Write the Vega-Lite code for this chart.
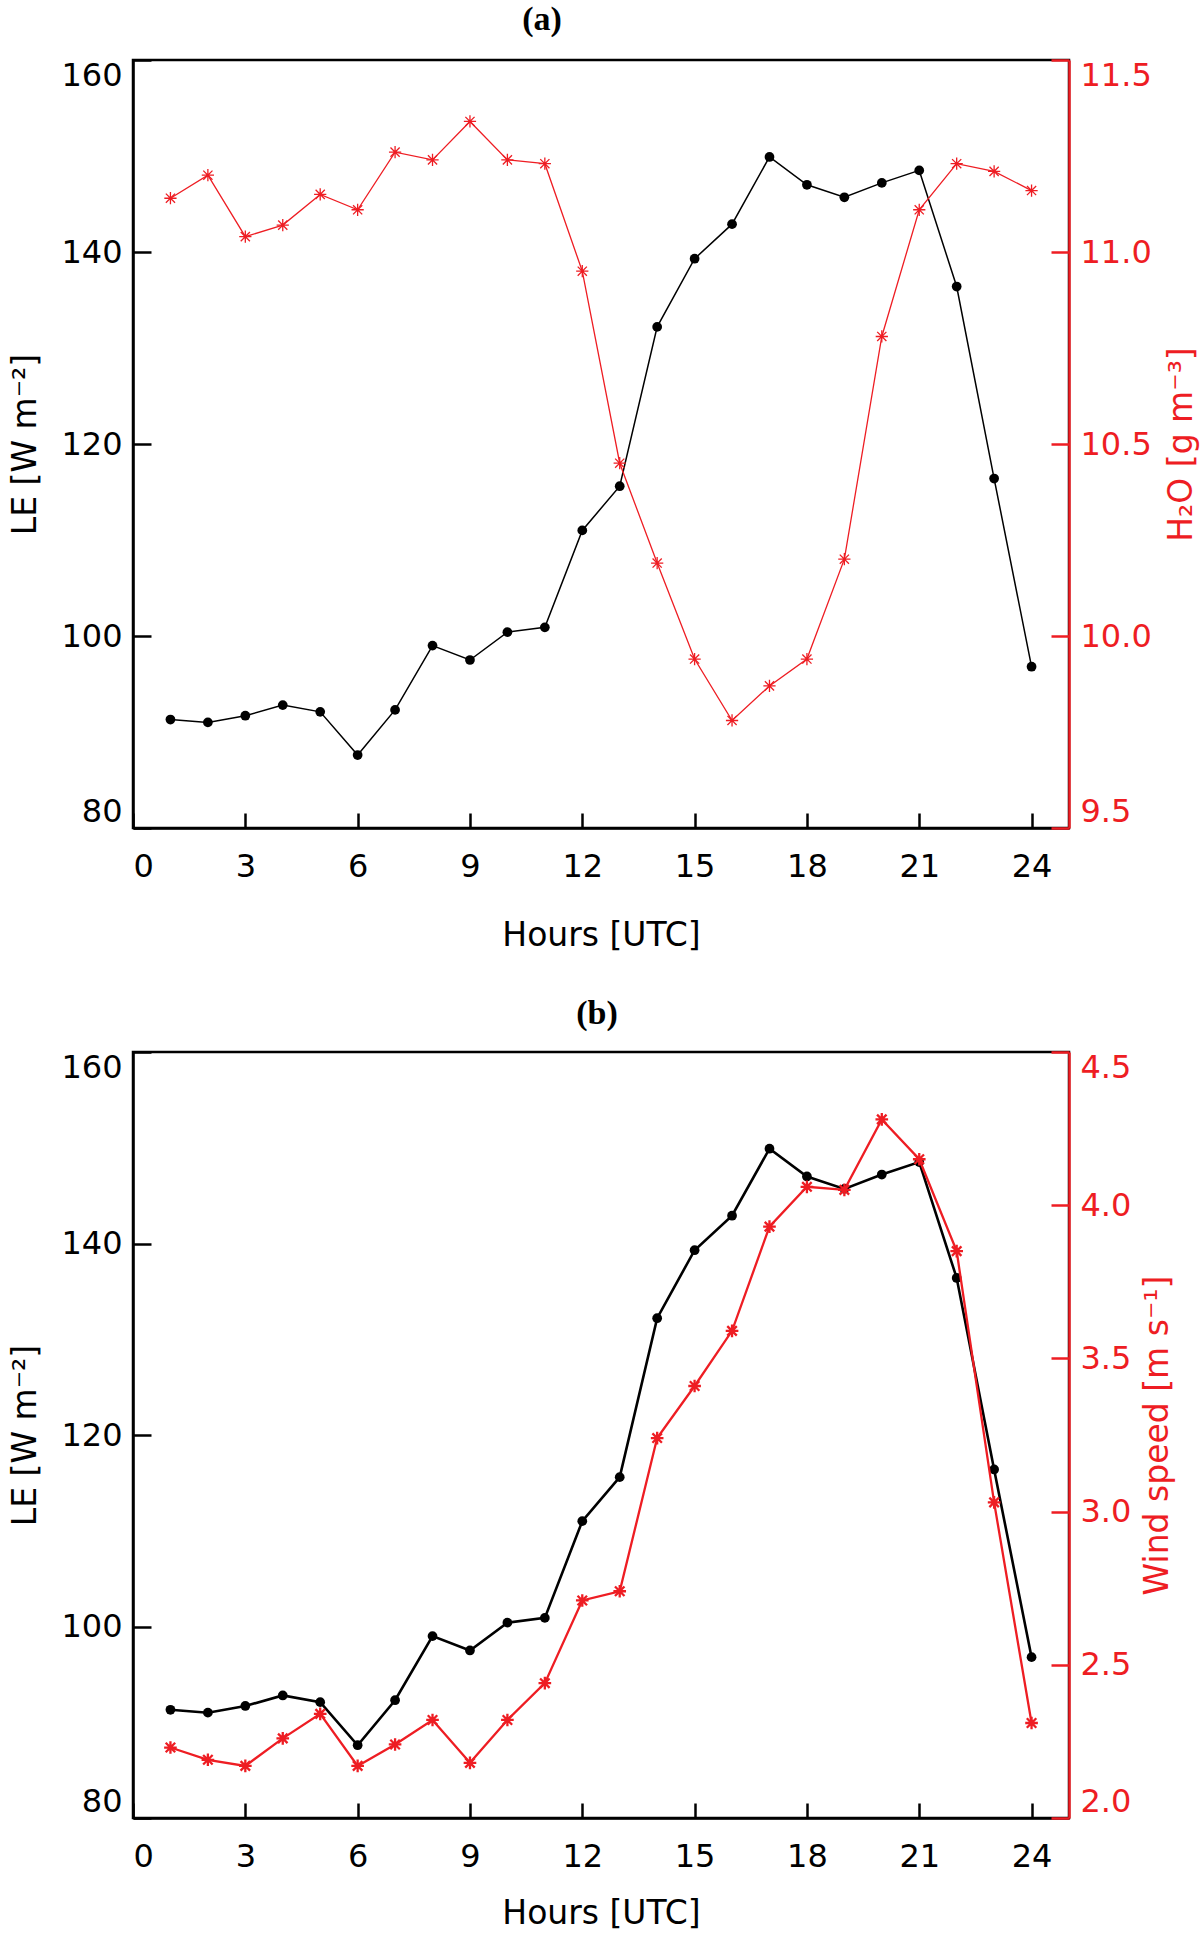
{
  "$schema": "https://vega.github.io/schema/vega-lite/v6.json",
  "background": "white",
  "padding": {"left": 8, "top": 1, "right": 6, "bottom": 2},
  "spacing": 41,
  "config": {
    "view": {"stroke": "black", "strokeWidth": 2.5},
    "title": {"font": "Liberation Serif", "fontWeight": "bold", "fontSize": 34, "color": "black", "anchor": "middle"},
    "axis": {
      "labelFont": "DejaVu Sans", "labelFontSize": 32, "labelColor": "black",
      "titleFont": "DejaVu Sans", "titleFontSize": 33, "titleFontWeight": "normal", "titleColor": "black",
      "grid": false, "domainWidth": 2.5, "tickWidth": 2.5, "domainColor": "black", "tickColor": "black"
    }
  },
  "datasets": {
    "hourly": [
      {"hour": 1, "LE": 91.3, "H2O": 11.14, "wind": 2.23},
      {"hour": 2, "LE": 91.0, "H2O": 11.20, "wind": 2.19},
      {"hour": 3, "LE": 91.7, "H2O": 11.04, "wind": 2.17},
      {"hour": 4, "LE": 92.8, "H2O": 11.07, "wind": 2.26},
      {"hour": 5, "LE": 92.1, "H2O": 11.15, "wind": 2.34},
      {"hour": 6, "LE": 87.6, "H2O": 11.11, "wind": 2.17},
      {"hour": 7, "LE": 92.3, "H2O": 11.26, "wind": 2.24},
      {"hour": 8, "LE": 99.0, "H2O": 11.24, "wind": 2.32},
      {"hour": 9, "LE": 97.5, "H2O": 11.34, "wind": 2.18},
      {"hour": 10, "LE": 100.4, "H2O": 11.24, "wind": 2.32},
      {"hour": 11, "LE": 100.9, "H2O": 11.23, "wind": 2.44},
      {"hour": 12, "LE": 111.0, "H2O": 10.95, "wind": 2.71},
      {"hour": 13, "LE": 115.6, "H2O": 10.45, "wind": 2.74},
      {"hour": 14, "LE": 132.2, "H2O": 10.19, "wind": 3.24},
      {"hour": 15, "LE": 139.3, "H2O": 9.94, "wind": 3.41},
      {"hour": 16, "LE": 142.9, "H2O": 9.78, "wind": 3.59},
      {"hour": 17, "LE": 149.9, "H2O": 9.87, "wind": 3.93},
      {"hour": 18, "LE": 147.0, "H2O": 9.94, "wind": 4.06},
      {"hour": 19, "LE": 145.7, "H2O": 10.20, "wind": 4.05},
      {"hour": 20, "LE": 147.2, "H2O": 10.78, "wind": 4.28},
      {"hour": 21, "LE": 148.5, "H2O": 11.11, "wind": 4.15},
      {"hour": 22, "LE": 136.4, "H2O": 11.23, "wind": 3.85},
      {"hour": 23, "LE": 116.4, "H2O": 11.21, "wind": 3.03},
      {"hour": 24, "LE": 96.8, "H2O": 11.16, "wind": 2.31}
    ]
  },
  "vconcat": [
    {
      "title": {"text": "(a)", "dx": -59, "offset": 22},
      "width": 936,
      "height": 768,
      "data": {"name": "hourly"},
      "encoding": {
        "x": {
          "field": "hour", "type": "quantitative",
          "scale": {"domain": [0, 25], "nice": false, "zero": false},
          "axis": {"values": [0, 3, 6, 9, 12, 15, 18, 21, 24], "tickSize": -15, "labelPadding": 38, "title": "Hours [UTC]", "titlePadding": 37}
        }
      },
      "layer": [
        {
          "mark": {"type": "line", "color": "black", "strokeWidth": 1.5,
            "point": {"filled": true, "color": "black", "size": 95}},
          "encoding": {
            "y": {
              "field": "LE", "type": "quantitative",
              "scale": {"domain": [80, 160], "nice": false, "zero": false},
              "axis": {"orient": "left", "values": [80, 100, 120, 140, 160], "tickSize": -18, "labelPadding": 29, "labelFlush": true, "title": "LE [W m⁻²]", "titlePadding": 18}
            }
          }
        },
        {
          "mark": {"type": "line", "color": "#ee1d23", "strokeWidth": 1.3,
            "point": {"filled": false, "color": "#ee1d23", "strokeWidth": 1.3, "size": 150,
              "shape": "M-1,0L1,0M0,-1L0,1M-0.75,-0.75L0.75,0.75M-0.75,0.75L0.75,-0.75"}},
          "encoding": {
            "y": {
              "field": "H2O", "type": "quantitative",
              "scale": {"domain": [9.5, 11.5], "nice": false, "zero": false},
              "axis": {"orient": "right", "values": [9.5, 10, 10.5, 11, 11.5], "format": ".1f", "tickSize": -18, "labelPadding": 29, "labelFlush": true,
                "domainColor": "#ee1d23", "tickColor": "#ee1d23", "labelColor": "#ee1d23", "titleColor": "#ee1d23",
                "title": "H₂O [g m⁻³]", "titleAngle": 270, "titleBaseline": "top", "titlePadding": 14}
            }
          }
        }
      ],
      "resolve": {"scale": {"y": "independent"}}
    },
    {
      "title": {"text": "(b)", "dx": -4, "offset": 20},
      "width": 936,
      "height": 766,
      "data": {"name": "hourly"},
      "encoding": {
        "x": {
          "field": "hour", "type": "quantitative",
          "scale": {"domain": [0, 25], "nice": false, "zero": false},
          "axis": {"values": [0, 3, 6, 9, 12, 15, 18, 21, 24], "tickSize": -15, "labelPadding": 38, "title": "Hours [UTC]", "titlePadding": 25}
        }
      },
      "layer": [
        {
          "mark": {"type": "line", "color": "black", "strokeWidth": 2.6,
            "point": {"filled": true, "color": "black", "size": 95}},
          "encoding": {
            "y": {
              "field": "LE", "type": "quantitative",
              "scale": {"domain": [80, 160], "nice": false, "zero": false},
              "axis": {"orient": "left", "values": [80, 100, 120, 140, 160], "tickSize": -18, "labelPadding": 29, "labelFlush": true, "title": "LE [W m⁻²]", "titlePadding": 18}
            }
          }
        },
        {
          "mark": {"type": "line", "color": "#ee1d23", "strokeWidth": 2.3,
            "point": {"filled": false, "color": "#ee1d23", "strokeWidth": 2.3, "size": 160,
              "shape": "M-1,0L1,0M0,-1L0,1M-0.75,-0.75L0.75,0.75M-0.75,0.75L0.75,-0.75"}},
          "encoding": {
            "y": {
              "field": "wind", "type": "quantitative",
              "scale": {"domain": [2.0, 4.5], "nice": false, "zero": false},
              "axis": {"orient": "right", "values": [2.0, 2.5, 3.0, 3.5, 4.0, 4.5], "format": ".1f", "tickSize": -18, "labelPadding": 29, "labelFlush": true,
                "domainColor": "#ee1d23", "tickColor": "#ee1d23", "labelColor": "#ee1d23", "titleColor": "#ee1d23",
                "title": "Wind speed [m s⁻¹]", "titleAngle": 270, "titleBaseline": "top", "titlePadding": 11}
            }
          }
        }
      ],
      "resolve": {"scale": {"y": "independent"}}
    }
  ]
}
